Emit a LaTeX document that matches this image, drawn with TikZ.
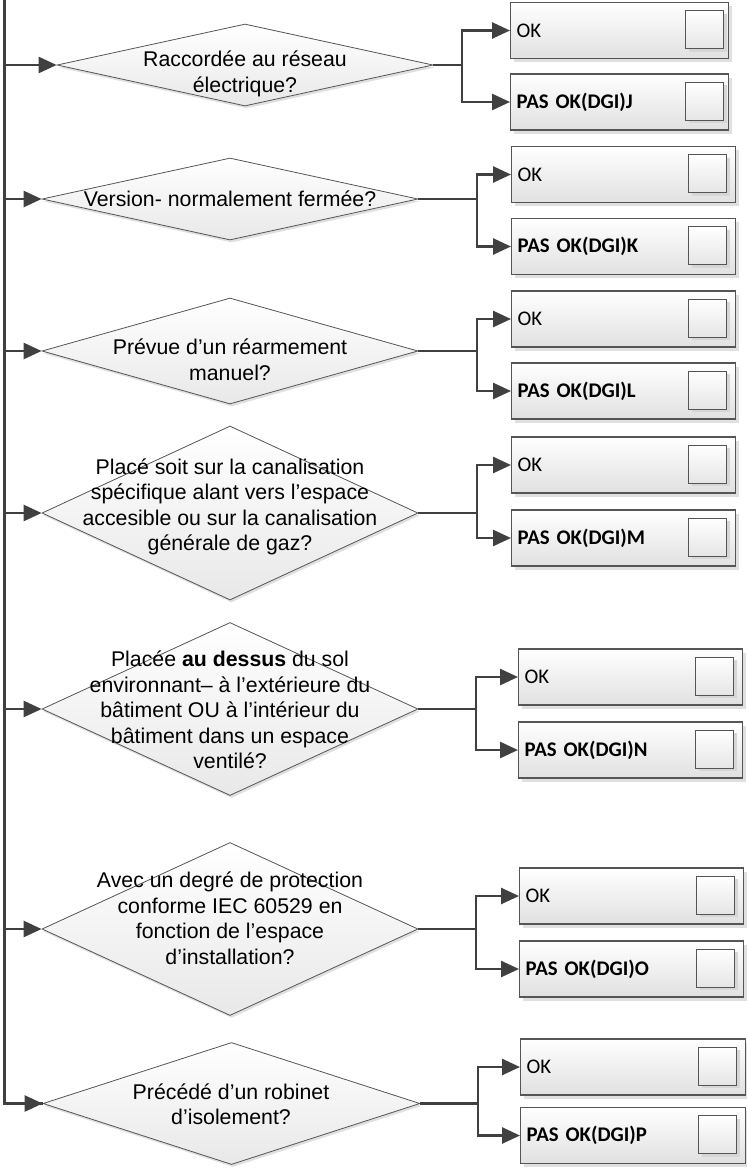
\documentclass[tikz,border=0pt]{standalone}
\usepackage{fontspec}
\setmainfont{Liberation Sans}
\newfontfamily\qfont{Liberation Sans}
\newfontfamily\bfont{Carlito}
\usetikzlibrary{shapes.geometric,arrows.meta,shadows}
\definecolor{lnc}{RGB}{64,64,64}
\definecolor{edge}{RGB}{85,85,85}

\tikzset{
  ln/.style={draw=lnc, line width=2.6pt, line join=miter},
  arr/.style={ln, -{Triangle[length=18pt,width=16pt]}},
  decision/.style={shape=diamond, draw=edge, line width=0.8pt,
    top color=white, bottom color=black!9, inner sep=0pt,
    drop shadow={shadow xshift=1.5pt, shadow yshift=-2.5pt, fill=black!12, opacity=1}},
  qtext/.style={font={\qfont\fontsize{21.3}{25.5}\selectfont}, align=center, inner sep=0pt, text=black},
  outbox/.style={rectangle, draw=edge, line width=1.2pt,
    top color=white, bottom color=black!12, minimum height=56pt,
    inner xsep=6pt, inner ysep=0pt, anchor=west, align=left,
    font={\bfont\fontsize{20.8}{24}\selectfont},
    drop shadow={shadow xshift=3pt, shadow yshift=-3.5pt, fill=black!12, opacity=1}},
  tick/.style={rectangle, draw=edge, line width=1pt,
    top color=white, bottom color=black!10, minimum width=38pt,
    minimum height=38pt, inner sep=0pt, anchor=east,
    drop shadow={shadow xshift=3pt, shadow yshift=-3pt, fill=black!16, opacity=1}},
}

% #1 id, #2 junction x, #3 box left, #4 box width, #5 OK y, #6 failure y, #7 letter, #8 square gap
\newcommand\outcomes[8]{%
  \pgfmathsetmacro\tw{#4-12}%
  \coordinate (jx#1) at (#2,0);
  \coordinate (j#1) at (d#1.east -| jx#1);
  \node[outbox, text width=\tw pt, minimum width=#4pt] (ok#1) at (#3,#5) {OK};
  \node[outbox, text width=\tw pt, minimum width=#4pt] (pas#1) at (#3,#6) {\bfseries PAS OK(DGI)#7};
  \node[tick] (okc#1) at ([xshift=-#8pt, yshift=1pt]ok#1.east) {};
  \node[tick] (pasc#1) at ([xshift=-#8pt, yshift=1pt]pas#1.east) {};
  \draw[ln] (d#1.east) -- (j#1);
  \draw[arr] (j#1) |- (ok#1.west);
  \draw[arr] (j#1) |- (pas#1.west);
}

\begin{document}
\begin{tikzpicture}[x=1pt, y=-1pt]
\useasboundingbox (0,0) rectangle (747,1168);

% decisions
\node[decision, minimum width=376pt, minimum height=82pt]  (d1) at (245,65) {};
\node[decision, minimum width=376pt, minimum height=82pt]  (d2) at (230,199) {};
\node[decision, minimum width=376pt, minimum height=106pt] (d3) at (230,351) {};
\node[decision, minimum width=376pt, minimum height=174pt] (d4) at (230,513) {};
\node[decision, minimum width=376pt, minimum height=173pt] (d5) at (230,709) {};
\node[decision, minimum width=376pt, minimum height=173pt] (d6) at (230,929) {};
\node[decision, minimum width=377pt, minimum height=122pt] (d7) at (231.5,1103.5) {};

% question texts
\node[qtext] (t1) at (245,74) {Raccordée au réseau\\électrique?};
\node[qtext] (t2) at (230,199) {Version- normalement fermée?};
\node[qtext] (t3) at (230,360) {Prévue d’un réarmement\\manuel?};
\node[qtext] (t4) at (230,507) {Placé soit sur la canalisation\\spécifique alant vers l’espace\\accesible ou sur la canalisation\\générale de gaz?};
\node[qtext] (t5) at (230,710) {Placée \textbf{au dessus} du sol\\environnant– à l’extérieure du\\bâtiment OU à l’intérieur du\\bâtiment dans un espace\\ventilé?};
\node[qtext] (t6) at (230,918) {Avec un degré de protection\\conforme IEC 60529 en\\fonction de l’espace\\d’installation?};
\node[qtext] (t7) at (231,1104) {Précédé d’un robinet\\d’isolement?};

% trunk line feeding every decision
\coordinate (top) at (4.5,-5);
\draw[ln] (top) -- (top |- d7.west) -- (d7.west);
\draw[arr] (top |- d7.west) -- (d7.west);
\foreach \k in {1,...,6} {
  \draw[arr] (top |- d\k.west) -- (d\k.west);
}

% outcomes
\outcomes{1}{462}{510}{218}{30.5}{102}{J}{5}
\outcomes{2}{477}{511}{224}{174.5}{246.5}{K}{9}
\outcomes{3}{477}{511}{224}{319}{391}{L}{9}
\outcomes{4}{477}{511}{224}{465}{538}{M}{9}
\outcomes{5}{476}{518}{224}{677}{750}{N}{9}
\outcomes{6}{476}{519}{224}{896}{969}{O}{9}
\outcomes{7}{478}{520}{225}{1067}{1135.5}{P}{9}
\end{tikzpicture}
\end{document}
